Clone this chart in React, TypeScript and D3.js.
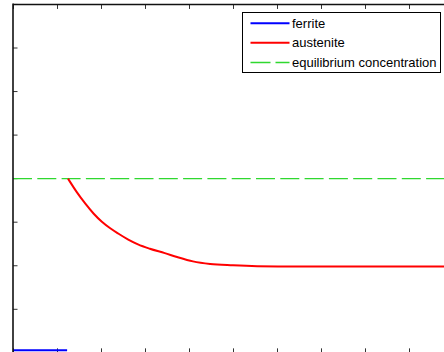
import React, { useEffect, useRef } from "react";
import * as d3 from "d3";

// Concentration profiles across the interface
const ferriteX = [0, 1.23];
const ferriteY = [0.06, 0.06];

const austeniteX = [1.25, 1.45, 1.64, 1.83, 2.02, 2.21, 2.39, 2.62, 2.84, 3.11, 3.45, 3.73, 4.09, 4.48, 5.0, 5.55, 6.5, 8.0, 10.0];
const austeniteY = [4.0, 3.69, 3.43, 3.2, 3.01, 2.86, 2.74, 2.6, 2.49, 2.39, 2.29, 2.2, 2.1, 2.04, 2.01, 1.99, 1.98, 1.98, 1.98];

const equilibriumLevel = 4.0;

const xTicks = [0, 1, 2, 3, 4, 5, 6, 7, 8, 9, 10];
const yTicks = [0, 1, 2, 3, 4, 5, 6, 7, 8];

const legendLabels = ["ferrite", "austenite", "equilibrium concentration"];

const W = 444;
const H = 352;

export default function App() {
  const ref = useRef<SVGSVGElement | null>(null);

  useEffect(() => {
    document.body.style.margin = "0";
    const svg = d3.select(ref.current);
    svg.selectAll("*").remove();

    const x = d3.scaleLinear().domain([0, 10]).range([13, 453]);
    const y = d3.scaleLinear().domain([0, 8]).range([352.85, 4.45]);

    const g = svg.append("g");

    // plot background
    g.append("rect")
      .attr("x", x(0)).attr("y", y(8))
      .attr("width", x(10) - x(0)).attr("height", y(0) - y(8))
      .attr("fill", "#fff");

    // inward tick marks on all sides
    const tickLen = 4.5;
    xTicks.forEach((t) => {
      g.append("line").attr("x1", x(t) + 0.5).attr("x2", x(t) + 0.5)
        .attr("y1", y(8)).attr("y2", y(8) + tickLen)
        .attr("stroke", "#333").attr("stroke-width", 1);
      g.append("line").attr("x1", x(t) + 0.5).attr("x2", x(t) + 0.5)
        .attr("y1", y(0)).attr("y2", y(0) - tickLen)
        .attr("stroke", "#333").attr("stroke-width", 1);
    });
    yTicks.forEach((t) => {
      g.append("line").attr("x1", x(0)).attr("x2", x(0) + tickLen)
        .attr("y1", y(t)).attr("y2", y(t))
        .attr("stroke", "#333").attr("stroke-width", 1);
    });

    const line = d3.line<[number, number]>()
      .x((d) => x(d[0]))
      .y((d) => y(d[1]))
      .curve(d3.curveMonotoneX);

    // equilibrium concentration
    g.append("line")
      .attr("x1", x(0)).attr("x2", x(10))
      .attr("y1", y(equilibriumLevel)).attr("y2", y(equilibriumLevel))
      .attr("stroke", "#2fd82f").attr("stroke-width", 1.3)
      .attr("stroke-dasharray", "19,5.3");

    // austenite
    g.append("path")
      .datum(austeniteX.map((v, i) => [v, austeniteY[i]] as [number, number]))
      .attr("d", line)
      .attr("fill", "none").attr("stroke", "#f00").attr("stroke-width", 2);

    // ferrite
    g.append("path")
      .datum(ferriteX.map((v, i) => [v, ferriteY[i]] as [number, number]))
      .attr("d", line)
      .attr("fill", "none").attr("stroke", "#00f").attr("stroke-width", 2);

    // axes frame
    g.append("line").attr("x1", x(0)).attr("x2", x(0)).attr("y1", y(8) - 1).attr("y2", y(0))
      .attr("stroke", "#111").attr("stroke-width", 1.6);
    g.append("line").attr("x1", x(0)).attr("x2", x(10)).attr("y1", y(8)).attr("y2", y(8))
      .attr("stroke", "#111").attr("stroke-width", 1.6);

    // legend
    const lg = g.append("g");
    lg.append("rect")
      .attr("x", 242.5).attr("y", 12.5).attr("width", 198).attr("height", 60)
      .attr("fill", "#fff").attr("stroke", "#000").attr("stroke-width", 1);
    const colors = ["#00f", "#f00", "#2fd82f"];
    const rows = [23.3, 42.7, 62.5];
    legendLabels.forEach((lab, i) => {
      lg.append("line")
        .attr("x1", 250.5).attr("x2", 289.5).attr("y1", rows[i]).attr("y2", rows[i])
        .attr("stroke", colors[i]).attr("stroke-width", i === 2 ? 1.3 : 2)
        .attr("stroke-dasharray", i === 2 ? "20,5" : null);
      lg.append("text")
        .attr("x", 292).attr("y", rows[i] + 4.6)
        .attr("font-family", "'Liberation Sans', Arial, sans-serif")
        .attr("font-size", 13)
        .attr("fill", "#000")
        .text(lab);
    });
  }, []);

  return (
    <svg
      ref={ref}
      width={W}
      height={H}
      style={{ position: "absolute", left: 0, top: 0, display: "block", background: "#fff" }}
    />
  );
}
